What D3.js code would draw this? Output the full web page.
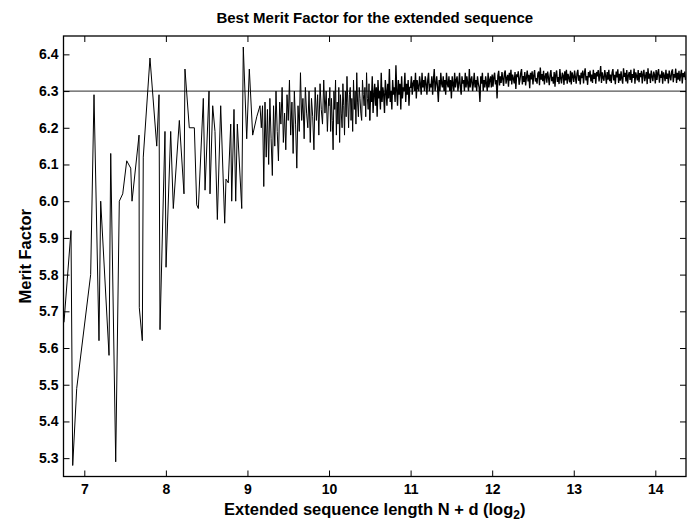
<!DOCTYPE html>
<html><head><meta charset="utf-8">
<script src="https://cdnjs.cloudflare.com/ajax/libs/d3/7.8.5/d3.min.js"></script>
<style>
html,body{margin:0;padding:0;background:#fff;}
text{font-family:"Liberation Sans",Arial,Helvetica,sans-serif;font-weight:bold;fill:#000;}
</style></head>
<body><svg id="chart" width="699" height="529"></svg>
<script>
// ---- data ----
const titleText = "Best Merit Factor for the extended sequence";
const xLabelText = "Extended sequence length N + d (log";
const yLabelText = "Merit Factor";
const xTicks = [7, 8, 9, 10, 11, 12, 13, 14];
const yTicks = [5.3, 5.4, 5.5, 5.6, 5.7, 5.8, 5.9, 6.0, 6.1, 6.2, 6.3, 6.4];
const xDomain = [6.745, 14.376];
const yDomain = [5.25, 6.45];
const referenceLevel = 6.3;

// sparse part (log2 length, merit factor)
const xSparse = [6.751,6.837,6.858,6.907,7.078,7.119,7.180,7.201,7.303,7.324,7.385,7.429,7.471,7.520,7.569,7.585,7.671,7.674,7.711,7.723,7.805,7.888,7.916,7.928,7.989,8.002,8.059,8.091,8.165,8.222,8.234,8.287,8.349,8.378,8.398,8.459,8.480,8.529,8.541,8.574,8.602,8.631,8.672,8.721,8.737,8.765,8.795,8.807,8.835,8.856,8.876,8.930,8.949,8.991,9.023,9.064,9.114,9.154];
const ySparse = [5.67,5.92,5.28,5.49,5.80,6.29,5.62,6.00,5.58,6.13,5.29,6.00,6.02,6.11,6.09,6.00,6.18,5.71,5.62,6.12,6.39,6.15,6.29,5.65,6.19,5.82,6.19,5.98,6.22,6.02,6.36,6.20,6.20,5.99,5.98,6.28,6.03,6.30,6.02,6.26,6.19,5.95,6.26,5.94,6.06,6.05,6.21,6.00,6.25,6.00,6.21,5.98,6.42,6.17,6.36,6.18,6.23,6.26];

// 9.17 .. 9.995
const x9 = [9.170,9.185,9.200,9.215,9.230,9.245,9.260,9.275,9.290,9.305,9.320,9.335,9.350,9.365,9.380,9.395,9.410,9.425,9.440,9.455,9.470,9.485,9.500,9.515,9.530,9.545,9.560,9.575,9.590,9.605,9.620,9.635,9.650,9.665,9.680,9.695,9.710,9.725,9.740,9.755,9.770,9.785,9.800,9.815,9.830,9.845,9.860,9.875,9.890,9.905,9.920,9.935,9.950,9.965,9.980,9.995];
const y9 = [6.20,6.26,6.04,6.27,6.12,6.25,6.10,6.28,6.17,6.07,6.26,6.15,6.30,6.19,6.11,6.27,6.21,6.31,6.16,6.24,6.14,6.29,6.22,6.33,6.18,6.27,6.13,6.30,6.21,6.09,6.26,6.19,6.35,6.22,6.28,6.17,6.31,6.24,6.20,6.30,6.16,6.28,6.23,6.14,6.31,6.22,6.29,6.18,6.32,6.25,6.21,6.33,6.24,6.30,6.19,6.28];

// 10.00 .. 10.99
const x10 = [10.00,10.01,10.02,10.03,10.04,10.05,10.06,10.07,10.08,10.09,10.10,10.11,10.12,10.13,10.14,10.15,10.16,10.17,10.18,10.19,10.20,10.21,10.22,10.23,10.24,10.25,10.26,10.27,10.28,10.29,10.30,10.31,10.32,10.33,10.34,10.35,10.36,10.37,10.38,10.39,10.40,10.41,10.42,10.43,10.44,10.45,10.46,10.47,10.48,10.49,10.50,10.51,10.52,10.53,10.54,10.55,10.56,10.57,10.58,10.59,10.60,10.61,10.62,10.63,10.64,10.65,10.66,10.67,10.68,10.69,10.70,10.71,10.72,10.73,10.74,10.75,10.76,10.77,10.78,10.79,10.80,10.81,10.82,10.83,10.84,10.85,10.86,10.87,10.88,10.89,10.90,10.91,10.92,10.93,10.94,10.95,10.96,10.97,10.98,10.99];
const y10 = [6.26,6.31,6.19,6.28,6.22,6.14,6.30,6.25,6.33,6.18,
  6.27,6.21,6.31,6.16,6.29,6.24,6.20,6.32,6.26,6.18,
  6.30,6.23,6.34,6.27,6.20,6.29,6.31,6.22,6.28,6.19,
  6.33,6.25,6.30,6.21,6.35,6.27,6.23,6.31,6.28,6.24,
  6.22,6.33,6.29,6.26,6.31,6.23,6.35,6.28,6.25,6.32,
  6.22,6.30,6.27,6.34,6.24,6.29,6.32,6.26,6.31,6.23,
  6.33,6.28,6.30,6.25,6.35,6.27,6.31,6.29,6.24,6.33,
  6.30,6.26,6.32,6.28,6.36,6.27,6.30,6.25,6.33,6.29,
  6.31,6.27,6.37,6.30,6.26,6.33,6.29,6.32,6.25,6.34,
  6.28,6.31,6.30,6.35,6.27,6.32,6.29,6.33,6.26,6.31];

// 11.00 .. 11.99
const x11 = [11.00,11.01,11.02,11.03,11.04,11.05,11.06,11.07,11.08,11.09,11.10,11.11,11.12,11.13,11.14,11.15,11.16,11.17,11.18,11.19,11.20,11.21,11.22,11.23,11.24,11.25,11.26,11.27,11.28,11.29,11.30,11.31,11.32,11.33,11.34,11.35,11.36,11.37,11.38,11.39,11.40,11.41,11.42,11.43,11.44,11.45,11.46,11.47,11.48,11.49,11.50,11.51,11.52,11.53,11.54,11.55,11.56,11.57,11.58,11.59,11.60,11.61,11.62,11.63,11.64,11.65,11.66,11.67,11.68,11.69,11.70,11.71,11.72,11.73,11.74,11.75,11.76,11.77,11.78,11.79,11.80,11.81,11.82,11.83,11.84,11.85,11.86,11.87,11.88,11.89,11.90,11.91,11.92,11.93,11.94,11.95,11.96,11.97,11.98,11.99];
const y11 = [6.31,6.34,6.29,6.32,6.33,6.30,6.35,6.28,6.33,6.31,
  6.30,6.34,6.32,6.29,6.35,6.31,6.33,6.30,6.34,6.32,
  6.29,6.33,6.35,6.30,6.32,6.31,6.34,6.29,6.33,6.36,
  6.30,6.32,6.34,6.31,6.27,6.33,6.30,6.35,6.32,6.31,
  6.34,6.30,6.33,6.29,6.35,6.32,6.31,6.34,6.30,6.33,
  6.28,6.34,6.32,6.30,6.35,6.31,6.33,6.34,6.30,6.32,
  6.35,6.31,6.29,6.34,6.32,6.33,6.30,6.35,6.31,6.34,
  6.32,6.30,6.36,6.31,6.33,6.34,6.30,6.32,6.35,6.31,
  6.33,6.30,6.34,6.32,6.31,6.27,6.34,6.32,6.35,6.30,
  6.33,6.31,6.34,6.32,6.30,6.35,6.31,6.33,6.34,6.31];

// 12.00 .. 12.99
const x12 = [12.00,12.01,12.02,12.03,12.04,12.05,12.06,12.07,12.08,12.09,12.10,12.11,12.12,12.13,12.14,12.15,12.16,12.17,12.18,12.19,12.20,12.21,12.22,12.23,12.24,12.25,12.26,12.27,12.28,12.29,12.30,12.31,12.32,12.33,12.34,12.35,12.36,12.37,12.38,12.39,12.40,12.41,12.42,12.43,12.44,12.45,12.46,12.47,12.48,12.49,12.50,12.51,12.52,12.53,12.54,12.55,12.56,12.57,12.58,12.59,12.60,12.61,12.62,12.63,12.64,12.65,12.66,12.67,12.68,12.69,12.70,12.71,12.72,12.73,12.74,12.75,12.76,12.77,12.78,12.79,12.80,12.81,12.82,12.83,12.84,12.85,12.86,12.87,12.88,12.89,12.90,12.91,12.92,12.93,12.94,12.95,12.96,12.97,12.98,12.99];
const y12 = [6.345,6.312,6.338,6.350,6.318,6.330,6.280,6.342,6.355,6.315,
  6.340,6.322,6.352,6.333,6.314,6.348,6.356,6.320,6.336,6.344,
  6.312,6.350,6.328,6.358,6.318,6.345,6.334,6.321,6.352,6.306,
  6.346,6.338,6.354,6.317,6.330,6.349,6.360,6.318,6.341,6.325,
  6.352,6.315,6.338,6.356,6.326,6.344,6.308,6.350,6.332,6.354,
  6.318,6.343,6.357,6.326,6.335,6.320,6.348,6.353,6.316,6.364,
  6.331,6.346,6.327,6.355,6.318,6.340,6.349,6.323,6.353,6.337,
  6.316,6.344,6.357,6.327,6.339,6.320,6.352,6.312,6.346,6.356,
  6.325,6.338,6.319,6.360,6.334,6.321,6.350,6.343,6.317,6.354,
  6.329,6.358,6.320,6.347,6.336,6.324,6.355,6.318,6.351,6.340];

// 13.00 .. 14.37
const x13 = [13.00,13.01,13.02,13.03,13.04,13.05,13.06,13.07,13.08,13.09,13.10,13.11,13.12,13.13,13.14,13.15,13.16,13.17,13.18,13.19,13.20,13.21,13.22,13.23,13.24,13.25,13.26,13.27,13.28,13.29,13.30,13.31,13.32,13.33,13.34,13.35,13.36,13.37,13.38,13.39,13.40,13.41,13.42,13.43,13.44,13.45,13.46,13.47,13.48,13.49,13.50,13.51,13.52,13.53,13.54,13.55,13.56,13.57,13.58,13.59,13.60,13.61,13.62,13.63,13.64,13.65,13.66,13.67,13.68,13.69,13.70,13.71,13.72,13.73,13.74,13.75,13.76,13.77,13.78,13.79,13.80,13.81,13.82,13.83,13.84,13.85,13.86,13.87,13.88,13.89,13.90,13.91,13.92,13.93,13.94,13.95,13.96,13.97,13.98,13.99,14.00,14.01,14.02,14.03,14.04,14.05,14.06,14.07,14.08,14.09,14.10,14.11,14.12,14.13,14.14,14.15,14.16,14.17,14.18,14.19,14.20,14.21,14.22,14.23,14.24,14.25,14.26,14.27,14.28,14.29,14.30,14.31,14.32,14.33,14.34,14.35,14.36,14.37];
const y13 = [6.325,6.356,6.338,6.320,6.348,6.358,6.328,6.343,6.318,6.350,
  6.335,6.356,6.321,6.348,6.362,6.329,6.341,6.317,6.352,6.337,
  6.356,6.326,6.345,6.322,6.358,6.333,6.349,6.320,6.352,6.340,
  6.357,6.326,6.344,6.368,6.322,6.351,6.336,6.328,6.357,6.342,
  6.320,6.352,6.331,6.358,6.327,6.345,6.322,6.350,6.360,6.329,
  6.344,6.319,6.353,6.337,6.359,6.322,6.347,6.328,6.354,6.333,
  6.320,6.362,6.339,6.350,6.326,6.357,6.321,6.343,6.352,6.330,
  6.358,6.323,6.346,6.336,6.361,6.320,6.351,6.341,6.329,6.357,
  6.324,6.349,6.338,6.355,6.321,6.346,6.358,6.327,6.340,6.352,
  6.319,6.362,6.334,6.348,6.322,6.356,6.339,6.327,6.353,6.344,
  6.321,6.357,6.330,6.350,6.360,6.323,6.345,6.336,6.355,6.320,
  6.351,6.342,6.327,6.358,6.333,6.348,6.321,6.356,6.340,6.329,
  6.353,6.359,6.324,6.346,6.337,6.361,6.322,6.350,6.331,6.355,
  6.327,6.344,6.358,6.321,6.349,6.338,6.353,6.330];

// ---- drawing ----
const m = {left: 63.5, right: 686, top: 36, bottom: 476.5};
const svg = d3.select("#chart");
const x = d3.scaleLinear().domain(xDomain).range([m.left, m.right]);
const y = d3.scaleLinear().domain(yDomain).range([m.bottom, m.top]);

const allX = [].concat(xSparse, x9, x10, x11, x12, x13);
const allY = [].concat(ySparse, y9, y10, y11, y12, y13);
const pts = allX.map((v, i) => [v, allY[i]]);
// where the trace becomes a dense band (drawn with a slightly heavier pen)
const bandStart = pts.findIndex(d => d[0] >= 10.5);

svg.append("defs").append("clipPath").attr("id", "clip")
  .append("rect").attr("x", m.left).attr("y", m.top)
  .attr("width", m.right - m.left).attr("height", m.bottom - m.top);

// reference line
svg.append("line")
  .attr("x1", m.left).attr("x2", m.right)
  .attr("y1", y(referenceLevel)).attr("y2", y(referenceLevel))
  .attr("stroke", "#555").attr("stroke-width", 1.2);

const line = d3.line().x(d => x(d[0])).y(d => y(d[1]));
svg.append("path").datum(pts.slice(0, bandStart + 1))
  .attr("clip-path", "url(#clip)")
  .attr("fill", "none").attr("stroke", "#000").attr("stroke-width", 1)
  .attr("d", line);
svg.append("path").datum(pts.slice(bandStart))
  .attr("clip-path", "url(#clip)")
  .attr("fill", "none").attr("stroke", "#000").attr("stroke-width", 1.35)
  .attr("d", line);

// axes (MATLAB style: inward ticks on all four sides)
const tl = 6;
const fmtY = d3.format(".1f");
const gB = svg.append("g").attr("transform", `translate(0,${m.bottom})`)
  .call(d3.axisBottom(x).tickValues(xTicks).tickSize(-tl).tickPadding(8).tickFormat(d3.format("d")));
const gT = svg.append("g").attr("transform", `translate(0,${m.top})`)
  .call(d3.axisTop(x).tickValues(xTicks).tickSize(-tl).tickFormat(""));
const gL = svg.append("g").attr("transform", `translate(${m.left},0)`)
  .call(d3.axisLeft(y).tickValues(yTicks).tickSize(-tl).tickPadding(5).tickFormat(fmtY));
const gR = svg.append("g").attr("transform", `translate(${m.right},0)`)
  .call(d3.axisRight(y).tickValues(yTicks).tickSize(-tl).tickFormat(""));
[gB, gT, gL, gR].forEach(g => {
  g.select(".domain").remove();
  g.selectAll(".tick line").attr("stroke", "#000").attr("stroke-width", 1);
  g.selectAll("text").attr("font-family", null).attr("font-size", null)
    .style("font-size", "14px").style("font-weight", "bold").attr("fill", "#000");
});

// box
svg.append("rect").attr("x", m.left).attr("y", m.top)
  .attr("width", m.right - m.left).attr("height", m.bottom - m.top)
  .attr("fill", "none").attr("stroke", "#000").attr("stroke-width", 1.3);

// title
svg.append("text").attr("x", (m.left + m.right) / 2).attr("y", 23)
  .attr("text-anchor", "middle").style("font-size", "15px").text(titleText);

// x label with subscript
const xl = svg.append("text").attr("x", (m.left + m.right) / 2).attr("y", 515)
  .attr("text-anchor", "middle").style("font-size", "16.5px");
xl.append("tspan").text(xLabelText);
xl.append("tspan").attr("dy", 4).style("font-size", "12px").text("2");
xl.append("tspan").attr("dy", -4).text(")");

// y label
svg.append("text").attr("transform", `translate(31,${(m.top + m.bottom) / 2}) rotate(-90)`)
  .attr("text-anchor", "middle").style("font-size", "16.5px").text(yLabelText);
</script></body></html>
